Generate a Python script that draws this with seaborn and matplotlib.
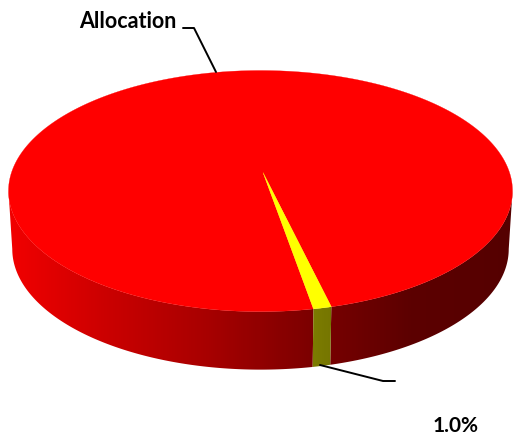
import numpy as np
import matplotlib
matplotlib.use('Agg')
import matplotlib.pyplot as plt
import matplotlib.colors as mcolors
from matplotlib.patches import Polygon
import seaborn as sns

slices = ['Other', 'Allocation']
shares = [99.0, 1.0]
slice_colors = ['#ff0000', '#ffff00']
value_label = '1.0%'

sns.set_theme(style='white')
plt.rcParams['font.family'] = ['Lato', 'DejaVu Sans']

W, H = 515, 437
start_angle = -76.0   # where the big slice begins, going counter-clockwise
cx, cy = 260.5, 172.5
apex_x = 263
rx, ry = 249, 117.7
persp = 0.154
depth = 58
base_scale = 0.985    # bottom rim is a bit narrower than the top one

# how dark the side wall gets from left to right
shade = np.array(sns.blend_palette(['#f5f5f5', '#cccccc', '#a8a8a8', '#7d7d7d', '#5c5c5c', '#555555'], n_colors=W))


def project(deg):
    t = np.radians(deg)
    w = 1 + persp * np.sin(t)
    return cx + rx * np.cos(t) / w, cy - ry * np.sin(t) / w


fig, ax = plt.subplots(figsize=(W / 100, H / 100), dpi=100)
fig.subplots_adjust(0, 0, 1, 1)
ax.axis('off')

edges = start_angle + np.cumsum([0] + shares) * 3.6
# the wall is only seen between the two outermost points of the rim
sil = np.degrees(np.arcsin(persp))

# side wall: a left-to-right gradient clipped to each slice's visible strip
for i in range(len(shares)):
    img = shade[np.newaxis, :, :] * np.array(mcolors.to_rgb(slice_colors[i]))
    for turn in (-360, 0):
        lo = max(edges[i], turn + 180 + sil)
        hi = min(edges[i + 1], turn + 360 - sil)
        if lo >= hi:
            continue
        x, y = project(np.linspace(lo, hi, 300))
        x_base = cx + (x - cx) * base_scale
        pts = np.c_[np.r_[x, x_base[::-1]], np.r_[y, y[::-1] + depth]]
        im = ax.imshow(img, extent=(0, W, H, 0), aspect='auto', zorder=2 + i, interpolation='bilinear')
        im.set_clip_path(Polygon(pts, transform=ax.transData))

ax.set_xlim(0, W)
ax.set_ylim(H, 0)

# top face
for i in range(len(shares)):
    x, y = project(np.linspace(edges[i], edges[i + 1], 400))
    ax.fill(np.r_[apex_x, x], np.r_[cy, y], color=slice_colors[i], lw=0.2, zorder=4 + i)

# leader lines and labels
ax.plot([183, 194, 216], [28, 28, 72], color='black', lw=1.4, zorder=6)
ax.plot([320, 383, 395], [365, 381, 381], color='black', lw=1.4, zorder=6)
ax.text(79, 21, slices[1], fontsize=15.5, fontweight='bold', color='black', va='center', ha='left')
ax.text(433, 426, value_label, fontsize=15, fontweight='bold', color='black', va='center', ha='left')

fig.savefig('out.png', dpi=100)
